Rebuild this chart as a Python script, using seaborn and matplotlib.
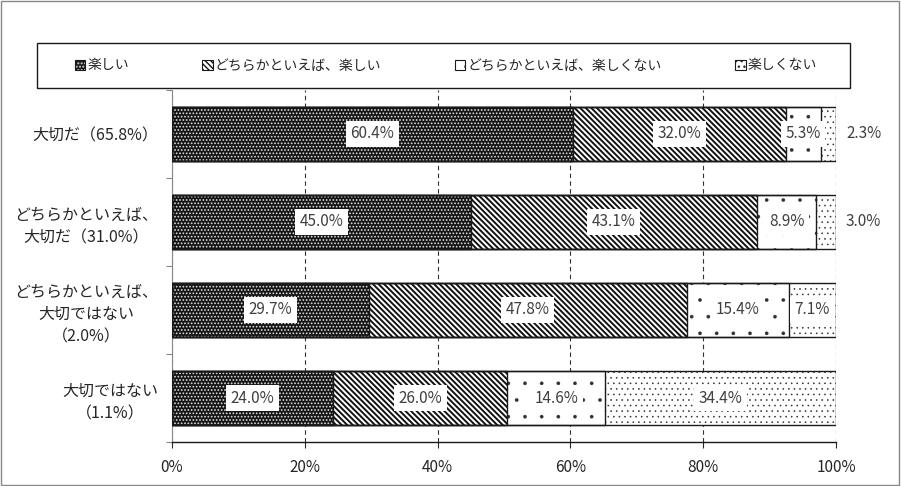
import pandas as pd
import matplotlib
matplotlib.use("Agg")
import matplotlib.pyplot as plt
from matplotlib.patches import Patch, Rectangle
import seaborn as sns

# データ
categories = ["大切だ（65.8%）",
              "どちらかといえば、\n大切だ（31.0%）",
              "どちらかといえば、\n大切ではない\n（2.0%）",
              "大切ではない\n（1.1%）"]
series = ["楽しい", "どちらかといえば、楽しい", "どちらかといえば、楽しくない", "楽しくない"]
tanoshii = [60.4, 45.0, 29.7, 24.0]
yaya_tanoshii = [32.0, 43.1, 47.8, 26.0]
yaya_tanoshikunai = [5.3, 8.9, 15.4, 14.6]
tanoshikunai = [2.3, 3.0, 7.1, 34.4]
xticks = [0, 20, 40, 60, 80, 100]

# スタイル
faces = ["#151515", "white", "white", "white"]
hatch_colors = ["#e0e0e0", "#111111", "#303030", "#303030"]
hatches = [".....", "\\" * 6, ".", "..."]
hatch_lws = [0.8, 1.4, 0.2, 0.4]
text_color = "#404040"

sns.set_theme(style="white")
plt.rcParams["font.family"] = ["Noto Sans CJK JP", "DejaVu Sans"]
plt.rcParams["hatch.linewidth"] = 1.0


def set_hatch(p, i):
    p.set_facecolor(faces[i])
    p.set_edgecolor(hatch_colors[i])
    p.set_hatch(hatches[i])
    p.set_linewidth(0)
    if hasattr(p, "set_hatch_linewidth"):
        p.set_hatch_linewidth(hatch_lws[i])


df = pd.DataFrame({"区分": categories, series[0]: tanoshii, series[1]: yaya_tanoshii,
                   series[2]: yaya_tanoshikunai, series[3]: tanoshikunai})
shares = df[series].div(df[series].sum(axis=1), axis=0) * 100
cum = shares.cumsum(axis=1)

fig = plt.figure(figsize=(9.01, 4.86), dpi=100)
ax = fig.add_axes([172 / 901, 1 - 442 / 486, 664 / 901, 352 / 486])

# 塗り (累積値を大きい順に重ねる)
for i in reversed(range(len(series))):
    n = len(ax.patches)
    sns.barplot(x=cum[series[i]], y=df["区分"], orient="h", width=0.62,
                errorbar=None, color=faces[i], ax=ax)
    for p in ax.patches[n:]:
        set_hatch(p, i)
        p.set_zorder(2)

# 枠線
for i in range(len(series)):
    n = len(ax.patches)
    sns.barplot(x=cum[series[i]], y=df["区分"], orient="h", width=0.62,
                errorbar=None, color="white", ax=ax)
    for p in ax.patches[n:]:
        p.set_facecolor("none")
        p.set_edgecolor("#1a1a1a")
        p.set_linewidth(1.0)
        p.set_zorder(3)

# 値ラベル
for r in range(len(categories)):
    for i, s in enumerate(series):
        val = df.loc[r, s]
        share = shares.loc[r, s]
        if share < 4:
            ax.text(101.5, r, f"{val:.1f}%", ha="left", va="center",
                    fontsize=11, color=text_color, zorder=5)
        else:
            ax.text(cum.loc[r, s] - share / 2, r, f"{val:.1f}%", ha="center", va="center",
                    fontsize=11, color=text_color, zorder=5,
                    bbox=dict(boxstyle="square,pad=0.3", facecolor="white", edgecolor="none"))

# 軸
ax.set_xlim(0, 100)
ax.set_ylim(3.5, -0.5)
ax.set_xticks(xticks)
ax.set_xticklabels([f"{t}%" for t in xticks])
ax.set_xlabel("")
ax.set_ylabel("")
ax.set_yticks(range(len(categories)))
ax.set_yticklabels(categories)
ax.set_yticks([-0.5, 0.5, 1.5, 2.5, 3.5], minor=True)
ax.tick_params(axis="y", which="major", length=0, pad=10, labelsize=11.5, labelcolor="#262626")
ax.tick_params(axis="y", which="minor", length=4, width=0.8, color="#888888", direction="out", left=True)
ax.tick_params(axis="x", which="major", length=4, width=0.8, color="#262626", direction="out",
               bottom=True, pad=8, labelsize=11, labelcolor="#262626")
for lab in ax.get_yticklabels():
    lab.set_multialignment("center")
    lab.set_linespacing(1.4)

ax.xaxis.grid(True, linestyle=(0, (4, 3)), color="#333333", linewidth=0.8)
ax.set_axisbelow(True)
for side in ["top", "right"]:
    ax.spines[side].set_visible(False)
ax.spines["left"].set_color("#888888")
ax.spines["left"].set_linewidth(0.8)
ax.spines["bottom"].set_color("#1a1a1a")
ax.spines["bottom"].set_linewidth(1.0)

# 凡例
handles = []
for i in range(len(series)):
    fill = Patch()
    set_hatch(fill, i)
    edge = Patch(facecolor="none", edgecolor="#1a1a1a", linewidth=0.8)
    handles.append((fill, edge))
fig.legend(handles, series, loc="center", bbox_to_anchor=(0.495, 1 - 65.5 / 486), ncol=4,
           frameon=False, fontsize=10, handlelength=0.75, handleheight=0.75,
           handletextpad=0.15, columnspacing=5.3)
fig.patches.append(Rectangle((37 / 901, 1 - 88 / 486), 813 / 901, 45 / 486, transform=fig.transFigure,
                             fill=False, edgecolor="#1a1a1a", linewidth=1.0))
fig.patches.append(Rectangle((0.001, 0.002), 0.997, 0.995, transform=fig.transFigure,
                             fill=False, edgecolor="#888888", linewidth=1.0))

fig.savefig("out.png", dpi=100)
